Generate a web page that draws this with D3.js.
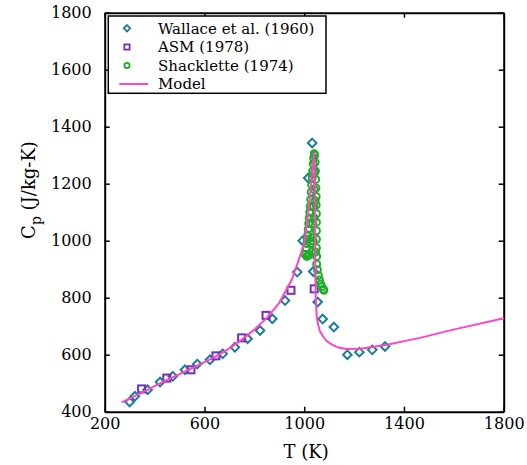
<!DOCTYPE html>
<html><head><meta charset="utf-8">
<script src="https://cdn.jsdelivr.net/npm/d3@7"></script>
<style>body{margin:0;background:#fff}svg{display:block}</style>
</head><body>
<svg id="c" width="527" height="465"></svg>
<script>
const xTicks = [200, 600, 1000, 1400, 1800];
const yTicks = [400, 600, 800, 1000, 1200, 1400, 1600, 1800];

const wallaceT  = [300,321,372,422,473,522,571,622,673,722,773,823,872,923,972,994,1016,1032,1036,1054,1074,1119,1173,1221,1273,1324];
const wallaceCp = [434,454,477,504,524,547,567,582,603,626,656,685,726,790,890,1000,1220,1343,892,785,725,697,600,609,617,629];

const asmT  = [348,449,546,646,749,847,947,1040];
const asmCp = [480,518,547,596,659,738,826,831];

const shackT  = [1004,1010,1016,1022,1030,1008,1010,1012,1014,1016,1018,1020,1022,1024,1026,1028,1030,1032,1034,1036,1038,1040,
                 1042,1044,1045,1046,1047,1048,1048,1049,1049,1049,1049,1049,1050,1050,1053,1057,1061,1066,1071,1076,1079,
                 1030,1034,1038,1026,1036,1040,1042,1044,1040,1046];
const shackCp = [952,945,948,952,960,975,990,1005,1020,1040,1060,1080,1100,1120,1145,1170,1195,1220,1245,1270,1290,1305,
                 1300,1275,1245,1215,1185,1155,1125,1095,1065,1035,1005,975,945,918,898,878,862,848,838,830,826,
                 1010,1060,1120,990,1000,1180,1240,1140,1080,960];

const modelT  = [268,300,350,400,450,500,550,600,650,700,750,800,850,900,950,975,1000,1012,1025,1040,1043,1044,1046,1050,1056,1063,1077,1090,1110,1137,1170,1224,1331,1464,1598,1800];
const modelCp = [433,446,467,490,512,532,553,574,596,622,653,688,729,782,863,925,990,1063,1170,1310,1200,1000,800,734,705,682,662,648,636,625,620,621,635,659,688,728];

const W = 527, H = 465;
const m = {l: 104.7, r: 503.7, t: 12.7, b: 411.7};
const svg = d3.select('#c');
const x = d3.scaleLinear().domain([200, 1800]).range([m.l, m.r]);
const y = d3.scaleLinear().domain([400, 1800]).range([m.b, m.t]);
const font = 'DejaVu Serif';

const teal = '#1b7d9b', purple = '#7030b8', green = '#1fae2a', pink = '#ff45c8';

// axes
const tl = 5;
const gB = svg.append('g').attr('transform', `translate(0,${m.b})`)
  .call(d3.axisBottom(x).tickValues(xTicks).tickSizeInner(-tl).tickSizeOuter(0).tickPadding(8).tickFormat(d3.format('d')));
const gT = svg.append('g').attr('transform', `translate(0,${m.t})`)
  .call(d3.axisTop(x).tickValues(xTicks).tickSizeInner(-tl).tickSizeOuter(0).tickFormat(''));
const gL = svg.append('g').attr('transform', `translate(${m.l},0)`)
  .call(d3.axisLeft(y).tickValues(yTicks).tickSizeInner(-tl).tickSizeOuter(0).tickPadding(13).tickFormat(d3.format('d')));
const gR = svg.append('g').attr('transform', `translate(${m.r},0)`)
  .call(d3.axisRight(y).tickValues(yTicks).tickSizeInner(-tl).tickSizeOuter(0).tickFormat(''));
[gB, gT, gL, gR].forEach(g => {
  g.select('.domain').attr('stroke', '#000').attr('stroke-width', 2);
  g.selectAll('.tick line').attr('stroke', '#000').attr('stroke-width', 1.5);
  g.selectAll('.tick text').attr('font-family', font).attr('font-size', 16).attr('fill', '#000');
});
gB.selectAll('.tick text').attr('dy', '0.6em');

// data
const diamond = (cx, cy, s) => `M${cx},${cy - s}L${cx + s},${cy}L${cx},${cy + s}L${cx - s},${cy}Z`;
const plot = svg.append('g');
plot.selectAll('path.w').data(wallaceT).join('path').attr('class', 'w')
  .attr('d', (d, i) => diamond(x(d), y(wallaceCp[i]), 4.3))
  .attr('fill', 'none').attr('stroke', teal).attr('stroke-width', 2);
plot.selectAll('rect.a').data(asmT).join('rect').attr('class', 'a')
  .attr('x', d => x(d) - 3.5).attr('y', (d, i) => y(asmCp[i]) - 3.5)
  .attr('width', 7).attr('height', 7)
  .attr('fill', 'none').attr('stroke', purple).attr('stroke-width', 2);
plot.selectAll('circle.s').data(shackT).join('circle').attr('class', 's')
  .attr('cx', d => x(d)).attr('cy', (d, i) => y(shackCp[i])).attr('r', 3.5)
  .attr('fill', 'none').attr('stroke', green).attr('stroke-width', 2);
const line = d3.line().x(d => x(d[0])).y(d => y(d[1]));
plot.append('path').datum(modelT.map((t, i) => [t, modelCp[i]]))
  .attr('d', line).attr('fill', 'none').attr('stroke', pink).attr('stroke-width', 2);

// axis labels
svg.append('text').attr('x', (m.l + m.r) / 2 + 2).attr('y', 458)
  .attr('text-anchor', 'middle').attr('font-family', font).attr('font-size', 18).text('T (K)');
const yl = svg.append('text').attr('transform', `translate(35,${190}) rotate(-90)`)
  .attr('text-anchor', 'middle').attr('font-family', font).attr('font-size', 18);
yl.append('tspan').text('C');
yl.append('tspan').attr('font-size', 14).attr('dy', 6).text('p');
yl.append('tspan').attr('dy', -6).text(' (J/kg-K)');

// legend
const lg = svg.append('g');
lg.append('rect').attr('x', 108.3).attr('y', 16).attr('width', 217.7).attr('height', 77.3)
  .attr('fill', '#fff').attr('stroke', '#000').attr('stroke-width', 1.5);
const items = [
  {name: 'Wallace et al. (1960)', type: 'd'},
  {name: 'ASM (1978)', type: 's'},
  {name: 'Shacklette (1974)', type: 'c'},
  {name: 'Model', type: 'l'}
];
const rowY = [28.3, 47, 65.5, 84];
items.forEach((it, i) => {
  const cy = rowY[i], cx = 127;
  if (it.type === 'd') lg.append('path').attr('d', diamond(cx, cy, 3.2)).attr('fill', 'none').attr('stroke', teal).attr('stroke-width', 1.8);
  if (it.type === 's') lg.append('rect').attr('x', cx - 2.6).attr('y', cy - 2.6).attr('width', 5.2).attr('height', 5.2).attr('fill', 'none').attr('stroke', purple).attr('stroke-width', 1.8);
  if (it.type === 'c') lg.append('circle').attr('cx', cx).attr('cy', cy).attr('r', 2.6).attr('fill', 'none').attr('stroke', green).attr('stroke-width', 1.8);
  if (it.type === 'l') lg.append('line').attr('x1', 119.3).attr('x2', 148).attr('y1', cy).attr('y2', cy).attr('stroke', pink).attr('stroke-width', 2);
  lg.append('text').attr('x', 158).attr('y', cy + 5.3).attr('font-family', font).attr('font-size', 15).text(it.name);
});
</script>
</body></html>
